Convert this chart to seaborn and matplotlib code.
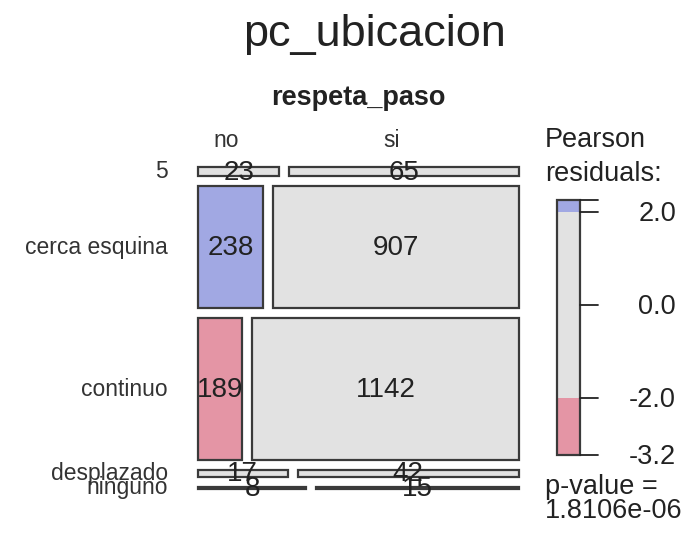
## Import Libraries
import numpy as np
import pandas as pd
import matplotlib
matplotlib.use("Agg")
import matplotlib.pyplot as plt
import seaborn as sns

## Data
rows = ["5", "cerca esquina", "continuo", "desplazado", "ninguno"]
cols = ["no", "si"]
n_no = [23, 238, 189, 17, 8]
n_si = [65, 907, 1142, 42, 15]
p_value_text = "1.8106e-06"

df = pd.DataFrame({"no": n_no, "si": n_si}, index=rows)

## Pearson residuals
N = df.values.sum()
expected = np.outer(df.sum(axis=1), df.sum(axis=0)) / N
resid = (df.values - expected) / np.sqrt(expected)

col_blue = "#A1A8E3"
col_red = "#E495A5"
col_gray = "#E2E2E2"


def shade(r):
    if r > 2:
        return col_blue
    if r < -2:
        return col_red
    return col_gray


sns.set_theme(style="white")
plt.rcParams["font.family"] = ["Liberation Sans", "DejaVu Sans"]

fig = plt.figure(figsize=(6.96, 5.36), dpi=100)
ax = fig.add_axes([0, 0, 1, 1])
ax.set_xlim(0, 696)
ax.set_ylim(536, 0)
ax.axis("off")

## Mosaic layout (pixel frame)
x0, x1 = 198, 519
y0, y1 = 167, 489
gap = 10
H = (y1 - y0) - gap * (len(rows) - 1)
W = (x1 - x0) - gap

row_tot = df.sum(axis=1).values
heights = row_tot / N * H
tops = y0 + np.concatenate([[0], np.cumsum(heights + gap)[:-1]])

for i, r in enumerate(rows):
    w_no = df.loc[r, "no"] / row_tot[i] * W
    w_si = W - w_no
    yc = tops[i] + heights[i] / 2
    lefts = [x0, x0 + w_no + gap]
    widths = [w_no, w_si]
    for j, c in enumerate(cols):
        ax.barh(yc, widths[j], height=heights[i], left=lefts[j],
                color=shade(resid[i, j]), edgecolor="#3a3a3a", linewidth=1.6)
        ax.text(lefts[j] + widths[j] / 2, yc + 1, str(df.loc[r, c]),
                ha="center", va="center", fontsize=20, color="#222222")
    ax.text(168, yc, r, ha="right", va="center", fontsize=16.5, color="#333333")

## Column labels at marginal positions
col_tot = df.sum(axis=0).values
w_no_m = col_tot[0] / N * W
ax.text(x0 + w_no_m / 2, 147, cols[0], ha="center", va="baseline", fontsize=16.5, color="#333333")
ax.text(x0 + w_no_m + gap + (W - w_no_m) / 2, 147, cols[1], ha="center", va="baseline",
        fontsize=16.5, color="#333333")
ax.text((x0 + x1) / 2, 105, "respeta_paso", ha="center", va="baseline",
        fontsize=19.5, fontweight="bold", color="#222222")

## Title
ax.text(375, 46, "pc_ubicacion", ha="center", va="baseline", fontsize=32.5, color="#222222")

## Legend
rmax, rmin = resid.max(), resid.min()
scale = 46.5
yzero = 305


def ly(v):
    return yzero - scale * v


bx0, bx1 = 557, 580
segs = [(2, rmax, col_blue), (-2, 2, col_gray), (rmin, -2, col_red)]
for lo, hi, c in segs:
    ax.bar((bx0 + bx1) / 2, ly(lo) - ly(hi), width=bx1 - bx0, bottom=ly(hi),
           color=c, edgecolor="none")
ax.bar((bx0 + bx1) / 2, ly(rmin) - ly(rmax), width=bx1 - bx0, bottom=ly(rmax),
       color="none", edgecolor="#3a3a3a", linewidth=1.6)

ticks = [rmax, 2.0, 0.0, -2.0, rmin]
for t in ticks:
    ax.plot([bx1, 598], [ly(t), ly(t)], color="#222222", lw=1.3)
for t in [2.0, 0.0, -2.0, rmin]:
    ax.text(676, ly(t) + 9, f"{t:.1f}", ha="right", va="baseline", fontsize=19.5, color="#222222")

ax.text(545, 147, "Pearson", ha="left", va="baseline", fontsize=19.5, color="#222222")
ax.text(545, 181, "residuals:", ha="left", va="baseline", fontsize=19.5, color="#222222")
ax.text(545, 494, "p-value =", ha="left", va="baseline", fontsize=19.5, color="#222222")
ax.text(545, 518, p_value_text, ha="left", va="baseline", fontsize=19.5, color="#222222")

plt.savefig("out.png", dpi=100)
